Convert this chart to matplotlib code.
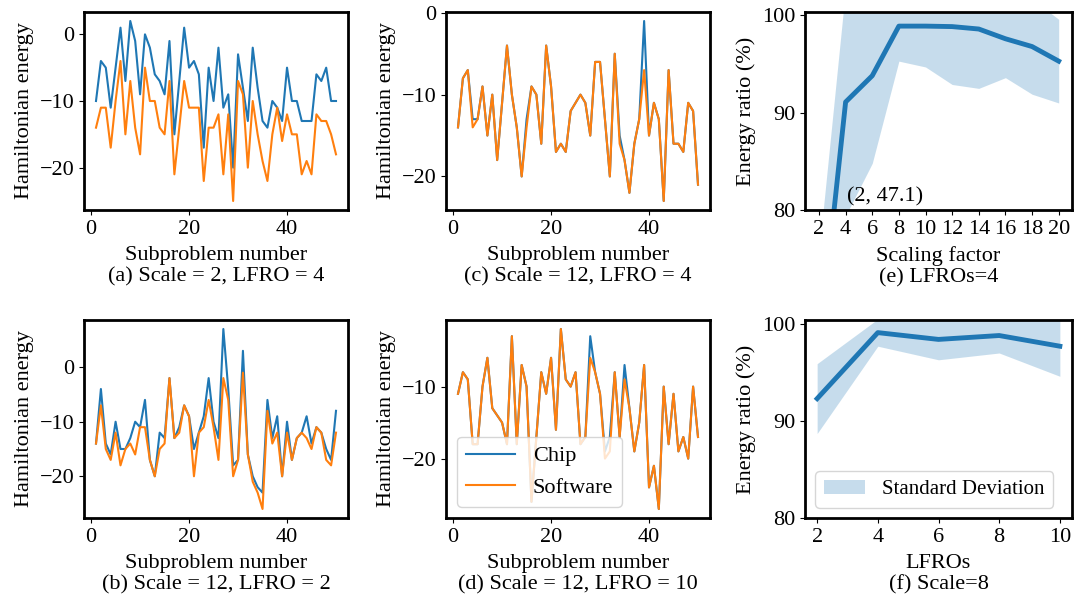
import numpy as np
import matplotlib
matplotlib.use('Agg')
import matplotlib.pyplot as plt

plt.rcParams['font.family'] = 'serif'
plt.rcParams['font.serif'] = ['Liberation Serif', 'DejaVu Serif']
plt.rcParams['font.size'] = 16

# Subproblem index for the four line panels
subproblem = list(range(1, 51))

# (a) Scale = 2, LFRO = 4
chip_a = [-10, -4, -5, -11, -5, 1, -7, 2, -1, -9, 0, -2, -6, -7, -9, -1, -15, -7, 1, -5,
          -4, -6, -17, -5, -10, -2, -11, -9, -20, -3, -8, -13, -2, -8, -13, -14, -10, -11, -13, -5,
          -10, -10, -13, -13, -13, -6, -7, -5, -10, -10]
soft_a = [-14, -11, -11, -17, -10, -4, -15, -7, -14, -18, -5, -10, -10, -14, -15, -7, -21, -14, -7, -11,
          -11, -11, -22, -14, -14, -12, -21, -12, -25, -7, -9, -20, -10, -15, -19, -22, -15, -11, -16, -12,
          -15, -15, -21, -19, -21, -12, -13, -13, -15, -18]

# (c) Scale = 12, LFRO = 4
chip_c = [-14, -8, -7, -13, -13, -9, -15, -10, -18, -11, -4, -10, -14, -20, -13, -9, -10, -16, -4, -9,
          -17, -16, -17, -12, -11, -10, -11, -15, -6, -6, -13, -20, -5, -15, -18, -22, -16, -13, -1, -15,
          -11, -13, -23, -7, -16, -16, -17, -11, -12, -21]
soft_c = [-14, -8, -7, -14, -13, -9, -15, -10, -18, -11, -4, -10, -14, -20, -14, -9, -10, -16, -4, -9,
          -17, -16, -17, -12, -11, -10, -11, -15, -6, -6, -13, -20, -5, -16, -18, -22, -16, -13, -7, -15,
          -11, -13, -23, -7, -16, -16, -17, -11, -12, -21]

# (b) Scale = 12, LFRO = 2
chip_b = [-14, -4, -14, -16, -10, -15, -15, -13, -10, -11, -6, -17, -20, -12, -13, -2, -13, -11, -7, -9,
          -15, -12, -9, -2, -10, -13, 7, -4, -18, -17, 3, -16, -20, -22, -23, -6, -13, -9, -20, -10,
          -17, -13, -12, -9, -14, -11, -12, -15, -17, -8]
soft_b = [-14, -7, -15, -17, -12, -18, -15, -14, -16, -11, -11, -17, -20, -15, -14, -2, -13, -12, -7, -9,
          -20, -12, -11, -6, -11, -17, -2, -6, -20, -17, -1, -16, -21, -23, -26, -8, -14, -12, -20, -12,
          -17, -13, -12, -13, -15, -11, -12, -17, -18, -12]

# (d) Scale = 12, LFRO = 10
chip_d = [-11, -8, -9, -18, -18, -10, -6, -13, -14, -15, -18, -3, -18, -7, -10, -26, -17, -8, -11, -6,
          -16, -2, -9, -10, -8, -18, -17, -3, -8, -11, -19, -17, -8, -17, -7, -13, -19, -15, -7, -24,
          -21, -27, -10, -18, -11, -19, -17, -20, -10, -17]
soft_d = [-11, -8, -9, -18, -18, -10, -6, -13, -14, -15, -18, -3, -18, -7, -10, -26, -17, -8, -11, -6,
          -16, -2, -9, -10, -8, -18, -17, -6, -8, -11, -20, -19, -8, -17, -9, -13, -19, -15, -7, -24,
          -21, -27, -10, -18, -11, -19, -17, -20, -10, -17]

# (e) LFROs = 4, energy ratio vs scaling factor
scale_factor = [2, 4, 6, 8, 10, 12, 14, 16, 18, 20]
ratio_e = [65.5, 91.1, 93.8, 98.9, 98.9, 98.85, 98.6, 97.6, 96.8, 95.3]
std_e = [10.2, 11.7, 9.0, 3.6, 4.2, 5.95, 6.1, 4.0, 4.9, 4.3]

# (f) Scale = 8, energy ratio vs LFROs
lfros = [2, 4, 6, 8, 10]
ratio_f = [92.3, 99.1, 98.4, 98.8, 97.7]
std_f = [3.6, 1.4, 2.1, 1.8, 3.1]

W, H = 1085, 602
fig = plt.figure(figsize=(W / 100, H / 100), dpi=100)


def make_ax(x0, y0, x1, y1):
    ax = fig.add_axes([x0 / W, 1 - y1 / H, (x1 - x0) / W, (y1 - y0) / H])
    for s in ax.spines.values():
        s.set_linewidth(2)
    return ax


def line_panel(ax, chip, soft, caption, legend=False):
    ax.plot(subproblem, chip, color='#1f77b4', lw=1.5, label='Chip')
    ax.plot(subproblem, soft, color='#ff7f0e', lw=1.5, label='Software')
    ax.set_xticks([0, 20, 40])
    ax.set_xlabel('Subproblem number\n' + caption, linespacing=1.15, labelpad=5.5)
    ax.set_ylabel('Hamiltonian energy', labelpad=4)
    if legend:
        ax.legend(loc='lower left', fontsize=16, handlelength=2.2)


cols = [(84, 348), (446, 710), (805, 1072)]
rows = [(12, 210), (320, 518)]

ax_a = make_ax(cols[0][0], rows[0][0], cols[0][1], rows[0][1])
line_panel(ax_a, chip_a, soft_a, '(a) Scale = 2, LFRO = 4')

ax_c = make_ax(cols[1][0], rows[0][0], cols[1][1], rows[0][1])
line_panel(ax_c, chip_c, soft_c, '(c) Scale = 12, LFRO = 4')

ax_b = make_ax(cols[0][0], rows[1][0], cols[0][1], rows[1][1])
line_panel(ax_b, chip_b, soft_b, '(b) Scale = 12, LFRO = 2')

ax_d = make_ax(cols[1][0], rows[1][0], cols[1][1], rows[1][1])
line_panel(ax_d, chip_d, soft_d, '(d) Scale = 12, LFRO = 10', legend=True)

# (e)
ax_e = make_ax(cols[2][0], rows[0][0], cols[2][1], rows[0][1])
re, se = np.array(ratio_e), np.array(std_e)
ax_e.fill_between(scale_factor, re - se, re + se, color='#1f77b4', alpha=0.25, lw=0)
ax_e.plot(scale_factor, ratio_e, color='#1f77b4', lw=3.5)
ax_e.set_ylim(80, 100.35)
ax_e.set_xlim(0.95, 21)
ax_e.set_xticks(scale_factor)
ax_e.set_yticks([80, 90, 100])
ax_e.text(4.1, 80.9, '(2, 47.1)', fontsize=16)
ax_e.set_xlabel('Scaling factor\n(e) LFROs=4', linespacing=1.15, labelpad=5.5)
ax_e.set_ylabel('Energy ratio (%)', labelpad=4)

# (f)
ax_f = make_ax(cols[2][0], rows[1][0], cols[2][1], rows[1][1])
rf, sf = np.array(ratio_f), np.array(std_f)
ax_f.fill_between(lfros, rf - sf, rf + sf, color='#1f77b4', alpha=0.25, lw=0,
                  label='Standard Deviation')
ax_f.plot(lfros, ratio_f, color='#1f77b4', lw=3.5)
ax_f.set_ylim(80, 100.4)
ax_f.set_xticks(lfros)
ax_f.set_yticks([80, 90, 100])
ax_f.legend(loc='lower left', fontsize=15)
ax_f.set_xlabel('LFROs\n(f) Scale=8', linespacing=1.15, labelpad=5.5)
ax_f.set_ylabel('Energy ratio (%)', labelpad=4)

fig.savefig('out.png', dpi=100)
